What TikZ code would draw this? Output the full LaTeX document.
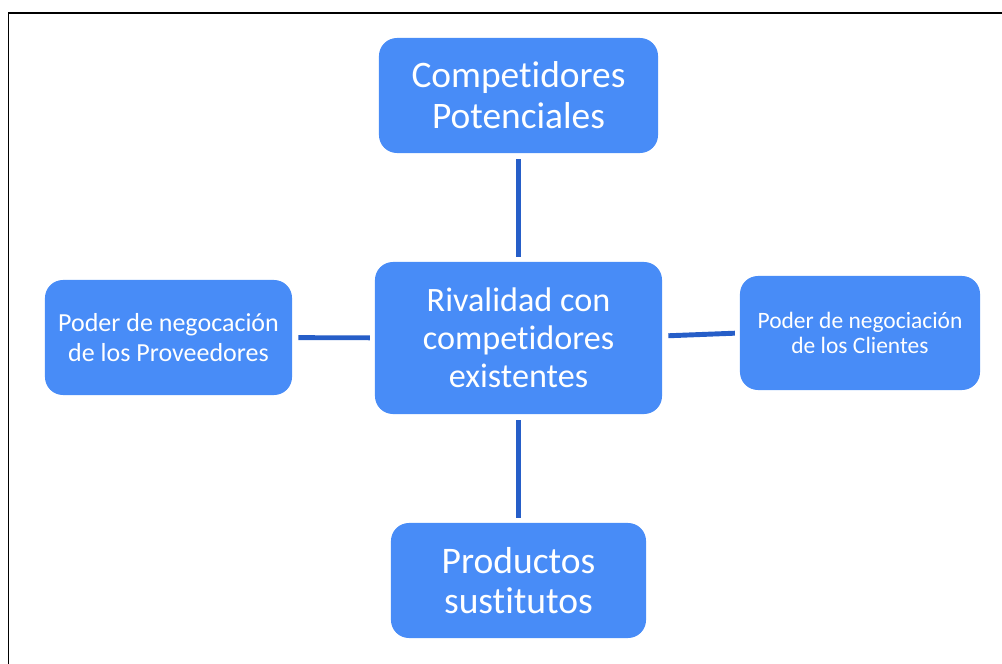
\documentclass[tikz,border=0pt]{standalone}
\usepackage{fontspec}
\setmainfont[Ligatures=NoCommon]{Carlito}
\definecolor{boxblue}{RGB}{72,140,247}
\definecolor{lineblue}{RGB}{38,94,200}

\tikzset{
  force/.style={fill=boxblue, rounded corners=0.45cm, text=white, align=center, inner sep=0pt},
  link/.style={lineblue, line width=3.5pt, shorten <=0.15cm, shorten >=0.12cm}
}

\begin{document}
\begin{tikzpicture}[x=0.025cm, y=-0.025cm]
    \useasboundingbox (0,0) rectangle (1002,664);

    % frame
    \draw[black, line width=1.4pt] (8.5,664) -- (8.5,13) -- (1002,13);

    % Rivalidad
    \node[force, minimum width=7.175cm, minimum height=3.8cm,
          font={\fontsize{24.3}{26.9}\selectfont}] (rival) at (518.5,338)
          {Rivalidad con\\competidores\\existentes};

    % Competidores potenciales
    \node[force, minimum width=6.975cm, minimum height=2.875cm,
          font={\fontsize{26.6}{29}\selectfont}] (potential) at (518.5,95.5)
          {Competidores\\Potenciales};
    \draw[link] (potential) -- (rival);

    % Proveedores
    \node[force, minimum width=6.175cm, minimum height=2.875cm,
          font={\fontsize{18.5}{21.3}\selectfont}] (suppliers) at (168.5,337.5)
          {Poder de negocación\\de los Proveedores};
    \draw[link] (suppliers) -- (rival);

    % Clientes
    \node[force, minimum width=6cm, minimum height=2.85cm,
          font={\fontsize{16.7}{18.2}\selectfont}] (clients) at (860,333)
          {Poder de negociación\\de los Clientes};
    \draw[link] ([yshift=0.05cm]rival.east) -- (clients.west);

    % Sustitutos
    \node[force, minimum width=6.375cm, minimum height=2.875cm,
          font={\fontsize{26.7}{29}\selectfont}] (substitutes) at (518.5,580.5)
          {Productos\\sustitutos};
    \draw[link] (rival) -- (substitutes);

\end{tikzpicture}
\end{document}
